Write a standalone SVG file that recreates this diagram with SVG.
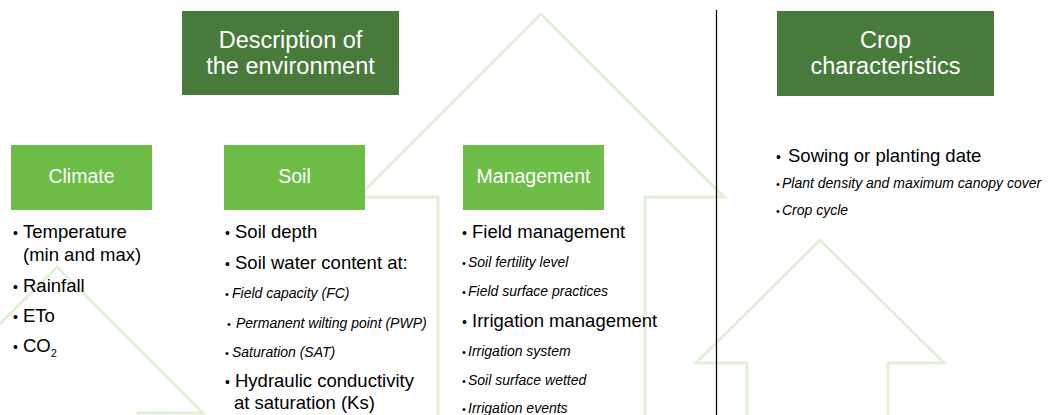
<svg xmlns="http://www.w3.org/2000/svg" width="1049" height="415" viewBox="0 0 1049 415">
<style>
.bg{fill:none;stroke:#e1f0d7;stroke-width:3}
.dark{fill:#487a3b}
.light{fill:#6dbd46}
.title{font-family:"Liberation Sans",Arial,sans-serif;font-size:23.5px;fill:#fff;text-anchor:middle}
.label{font-family:"Liberation Sans",Arial,sans-serif;font-size:19.5px;fill:#fff;text-anchor:middle}
.big{font-family:"Liberation Sans",Arial,sans-serif;font-size:18.5px;fill:#000}
.small{font-family:"Liberation Sans",Arial,sans-serif;font-size:14px;font-style:italic;fill:#000}
.b{font-size:14px;font-style:normal}
.bs{font-size:11px;font-style:normal}
</style>
<rect width="1049" height="415" fill="#fff"/>
<g id="background-arrows">
<polyline class="bg" points="438,420 438,197 358,197 541,14 724,197 645,197 645,420"/>
<polyline class="bg" points="747,420 747,363 696,363 820,240 944,363 888,363 888,420"/>
<polyline class="bg" points="138,420 138,413 203,413 57,267 -90,413 -24,413 -24,420"/>
</g>
<g id="connectors">
<line x1="716.5" y1="10" x2="716.5" y2="415" stroke="#000" stroke-width="1.2"/>
</g>
<g id="description-of-environment">
<rect class="dark" x="182" y="11" width="217" height="84"/>
<text class="title" x="290.5" y="48">Description of</text>
<text class="title" x="290.5" y="74">the environment</text>
</g>
<g id="crop-characteristics">
<rect class="dark" x="777" y="11" width="217" height="85"/>
<text class="title" x="885.5" y="48">Crop</text>
<text class="title" x="885.5" y="74">characteristics</text>
<text class="big" x="776" y="162"><tspan class="b">•</tspan><tspan x="788">Sowing or planting date</tspan></text>
<text class="small" x="776" y="188"><tspan class="bs">•</tspan><tspan x="782">Plant density and maximum canopy cover</tspan></text>
<text class="small" x="776" y="215"><tspan class="bs">•</tspan><tspan x="782">Crop cycle</tspan></text>
</g>
<g id="climate">
<rect class="light" x="11" y="145" width="141" height="65"/>
<text class="label" x="81.5" y="183">Climate</text>
<text class="big" x="13" y="238"><tspan class="b">•</tspan><tspan x="23">Temperature</tspan></text>
<text class="big" x="23" y="261">(min and max)</text>
<text class="big" x="13" y="292"><tspan class="b">•</tspan><tspan x="23">Rainfall</tspan></text>
<text class="big" x="13" y="322"><tspan class="b">•</tspan><tspan x="23">ETo</tspan></text>
<text class="big" x="13" y="352"><tspan class="b">•</tspan><tspan x="23">CO</tspan><tspan font-size="11" dy="5">2</tspan></text>
</g>
<g id="soil">
<rect class="light" x="224" y="145" width="141" height="65"/>
<text class="label" x="294.5" y="183">Soil</text>
<text class="big" x="225" y="238"><tspan class="b">•</tspan><tspan x="235">Soil depth</tspan></text>
<text class="big" x="225" y="269"><tspan class="b">•</tspan><tspan x="235">Soil water content at:</tspan></text>
<text class="small" x="225" y="298"><tspan class="bs">•</tspan><tspan x="232">Field capacity (FC)</tspan></text>
<text class="small" x="227" y="328"><tspan class="bs">•</tspan><tspan x="236">Permanent wilting point (PWP)</tspan></text>
<text class="small" x="225" y="357"><tspan class="bs">•</tspan><tspan x="232">Saturation (SAT)</tspan></text>
<text class="big" x="225" y="387"><tspan class="b">•</tspan><tspan x="235">Hydraulic conductivity</tspan></text>
<text class="big" x="234" y="409">at saturation (Ks)</text>
</g>
<g id="management">
<rect class="light" x="463" y="145" width="141" height="65"/>
<text class="label" x="533.5" y="183">Management</text>
<text class="big" x="462" y="238"><tspan class="b">•</tspan><tspan x="472">Field management</tspan></text>
<text class="small" x="462" y="267"><tspan class="bs">•</tspan><tspan x="468">Soil fertility level</tspan></text>
<text class="small" x="462" y="296"><tspan class="bs">•</tspan><tspan x="468">Field surface practices</tspan></text>
<text class="big" x="462" y="327"><tspan class="b">•</tspan><tspan x="472">Irrigation management</tspan></text>
<text class="small" x="462" y="356"><tspan class="bs">•</tspan><tspan x="468">Irrigation system</tspan></text>
<text class="small" x="462" y="385"><tspan class="bs">•</tspan><tspan x="468">Soil surface wetted</tspan></text>
<text class="small" x="462" y="413"><tspan class="bs">•</tspan><tspan x="468">Irrigation events</tspan></text>
</g>
</svg>
